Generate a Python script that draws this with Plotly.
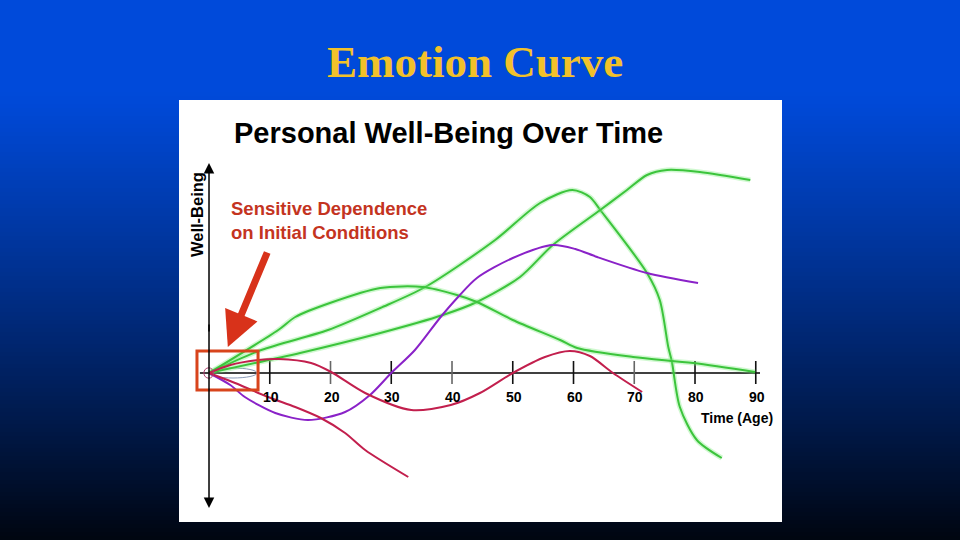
import plotly.graph_objects as go

# ---------------- data (age in years, well-being in arbitrary units) ----------------
green_a_age = [0, 8.6, 19.6, 28.2, 35.6, 47.1, 54.5, 59.8, 62.7, 64.4, 72.1, 74.2, 75.6, 76.2, 77.5, 80.3, 84.4]
green_a_wb = [0, 1.15, 2.15, 3.25, 4.3, 6.65, 8.5, 9.15, 8.8, 8.15, 5.0, 3.65, 1.3, 0.55, -1.7, -3.35, -4.25]

green_b_age = [0, 15.0, 28.2, 38.5, 44.1, 51.2, 56.6, 64.4, 68.8, 72.1, 75.4, 80.8, 89.1]
green_b_wb = [0, 1.0, 2.0, 2.9, 3.55, 4.8, 6.4, 8.15, 9.15, 9.9, 10.15, 10.05, 9.65]

green_c_age = [0, 11.4, 14.2, 19.9, 28.2, 35.2, 40.8, 44.1, 50.0, 57.8, 60.6, 69.8, 79.7, 89.9]
green_c_wb = [0, 2.15, 2.8, 3.5, 4.25, 4.3, 3.9, 3.55, 2.65, 1.65, 1.25, 0.8, 0.5, 0.05]

purple_age = [0, 3.5, 5.9, 10.9, 16.3, 22.4, 26.5, 30.0, 33.9, 38.0, 41.0, 44.1, 50.0, 56.6, 60.3, 63.9, 72.1, 80.5]
purple_wb = [0, -0.6, -1.2, -2.0, -2.35, -1.95, -1.1, 0, 1.15, 2.75, 3.8, 4.75, 5.75, 6.4, 6.2, 5.8, 5.0, 4.5]

red_a_age = [0, 3.5, 8.1, 11.4, 16.8, 20.1, 25.7, 33.3, 39.8, 44.6, 50.0, 55.3, 59.4, 62.7, 66.5, 71.3]
red_a_wb = [0, 0.4, 0.65, 0.7, 0.5, 0.05, -1.0, -1.85, -1.6, -1.0, 0, 0.8, 1.1, 0.85, 0, -0.95]

red_b_age = [0, 5.1, 9.7, 14.2, 18.4, 22.4, 25.7, 32.8]
red_b_wb = [0, -0.6, -1.2, -1.7, -2.25, -3.0, -3.85, -5.2]

tick_ages = [10, 20, 30, 40, 50, 60, 70, 80, 90]
tick_labels = ["10", "20", "30", "40", "50", "60", "70", "80", "90"]

slide_title = "Emotion Curve"
chart_title = "Personal Well-Being Over Time"
x_title = "Time (Age)"
y_title = "Well-Being"
note_text = "Sensitive Dependence<br>on Initial Conditions"

# ---------------- styles ----------------
GREEN = "#3cc43c"
GLOW = "rgba(120,235,120,0.35)"
PURPLE = "#8a22c8"
RED = "#c21f4d"
FONT = "Liberation Sans, Arial, sans-serif"

W, H = 960, 540
X_RANGE = [-4.94, 94.32]
Y_RANGE = [-7.45, 13.65]
X_DOM = [179 / W, 782 / W]
Y_DOM = [1 - 522 / H, 1 - 100 / H]

fig = go.Figure()

series = [
    (green_a_age, green_a_wb, GREEN, True),
    (green_b_age, green_b_wb, GREEN, True),
    (green_c_age, green_c_wb, GREEN, True),
    (purple_age, purple_wb, PURPLE, False),
    (red_a_age, red_a_wb, RED, False),
    (red_b_age, red_b_wb, RED, False),
]
for xs, ys, col, glow in series:
    if glow:
        fig.add_trace(go.Scatter(x=xs, y=ys, mode="lines",
                                 line=dict(color=GLOW, width=5, shape="spline", smoothing=0.8),
                                 hoverinfo="skip", showlegend=False))
    fig.add_trace(go.Scatter(x=xs, y=ys, mode="lines",
                             line=dict(color=col, width=2, shape="spline", smoothing=0.8),
                             showlegend=False))

shapes = []
# background gradient
band = 4
for y in range(0, H, band):
    t = max(0.0, (y - 90) / (H - 90))
    t = t ** 1.1
    g = int(round(74 - 69 * t))
    b = int(round(218 - 203 * t))
    shapes.append(dict(type="rect", xref="paper", yref="paper", layer="below",
                       x0=0, x1=1, y0=1 - (y + band) / H, y1=1 - y / H,
                       fillcolor=f"rgb(0,{g},{b})", line=dict(width=0)))
# white panel
shapes.append(dict(type="rect", xref="paper", yref="paper", layer="below",
                   x0=X_DOM[0], x1=X_DOM[1], y0=Y_DOM[0], y1=Y_DOM[1],
                   fillcolor="white", line=dict(width=0)))
# horizontal axis line
shapes.append(dict(type="line", xref="x", yref="y", layer="below",
                   x0=-1.5, x1=90.7, y0=0, y1=0, line=dict(color="black", width=1.5)))
# ticks
tick_cols = ["#111", "#666", "#111", "#666", "#111", "#111", "#666", "#111", "#111"]
for a, c in zip(tick_ages, tick_cols):
    shapes.append(dict(type="line", xref="x", yref="y", layer="below",
                       x0=a, x1=a, y0=0.6, y1=-0.55, line=dict(color=c, width=1.6)))
# grey ellipse near origin
shapes.append(dict(type="circle", xref="x", yref="y", layer="below",
                   x0=0, x1=7.9, y0=-0.25, y1=0.25, line=dict(color="#8a9ab8", width=1)))
# small circle at origin
shapes.append(dict(type="circle", xref="x", yref="y", layer="above",
                   x0=-0.85, x1=0.75, y0=-0.26, y1=0.26, line=dict(color="#b04070", width=1)))
# red box
shapes.append(dict(type="rect", xref="x", yref="y", layer="above",
                   x0=-1.98, x1=8.07, y0=-0.85, y1=1.1, line=dict(color="#d8441c", width=3)))

annotations = []
annotations.append(dict(text="<b>" + slide_title + "</b>", xref="paper", yref="paper", x=475 / W, y=1 - 62 / H,
                        xanchor="center", yanchor="middle", showarrow=False,
                        font=dict(family="Liberation Serif, Times New Roman, serif", size=45, color="#f2c12a")))
annotations.append(dict(text="<b>" + chart_title + "</b>", xref="paper", yref="paper",
                        x=232 / W, y=1 - 133 / H, xanchor="left", yanchor="middle", showarrow=False,
                        font=dict(family=FONT, size=29, color="black")))
annotations.append(dict(text="<b>" + y_title + "</b>", xref="paper", yref="paper",
                        x=197 / W, y=1 - 215 / H, xanchor="center", yanchor="middle", showarrow=False,
                        textangle=-90, font=dict(family=FONT, size=16.5, color="black")))
annotations.append(dict(text="<b>" + note_text + "</b>", xref="paper", yref="paper",
                        x=229 / W, y=1 - 220.5 / H, xanchor="left", yanchor="middle", align="left",
                        showarrow=False, font=dict(family=FONT, size=18.5, color="#c4341f")))
annotations.append(dict(text="<b>" + x_title + "</b>", xref="paper", yref="paper",
                        x=737 / W, y=1 - 418 / H, xanchor="center", yanchor="middle", showarrow=False,
                        font=dict(family=FONT, size=14, color="black")))
for a, lab in zip(tick_ages, tick_labels):
    annotations.append(dict(text="<b>" + lab + "</b>", x=a + 0.2, y=-1.2, xref="x", yref="y",
                            showarrow=False, xanchor="center", yanchor="middle",
                            font=dict(family=FONT, size=14, color="black")))
# vertical axis with arrows at both ends
annotations.append(dict(x=0, y=10.5, ax=0, ay=2, axref="x", ayref="y", xref="x", yref="y",
                        text="", showarrow=True, arrowhead=2, arrowsize=1.4, arrowwidth=1.5,
                        arrowcolor="black"))
annotations.append(dict(x=0, y=-6.75, ax=0, ay=2.5, axref="x", ayref="y", xref="x", yref="y",
                        text="", showarrow=True, arrowhead=2, arrowsize=1.4, arrowwidth=1.5,
                        arrowcolor="black"))
# red pointer arrow
annotations.append(dict(x=3.1, y=1.3, ax=40, ay=-96, xref="x", yref="y",
                        text="", showarrow=True, arrowhead=2, arrowsize=1.0, arrowwidth=7,
                        arrowcolor="#d8321a"))

fig.update_layout(
    width=W, height=H, margin=dict(l=0, r=0, t=0, b=0),
    paper_bgcolor="black", plot_bgcolor="rgba(0,0,0,0)",
    xaxis=dict(domain=X_DOM, range=X_RANGE, visible=False, fixedrange=True),
    yaxis=dict(domain=Y_DOM, range=Y_RANGE, visible=False, fixedrange=True),
    shapes=shapes, annotations=annotations, showlegend=False,
)

fig.write_html("out.html", config={"displayModeBar": False},
               post_script="document.body.style.margin='0';document.body.style.overflow='hidden';")
